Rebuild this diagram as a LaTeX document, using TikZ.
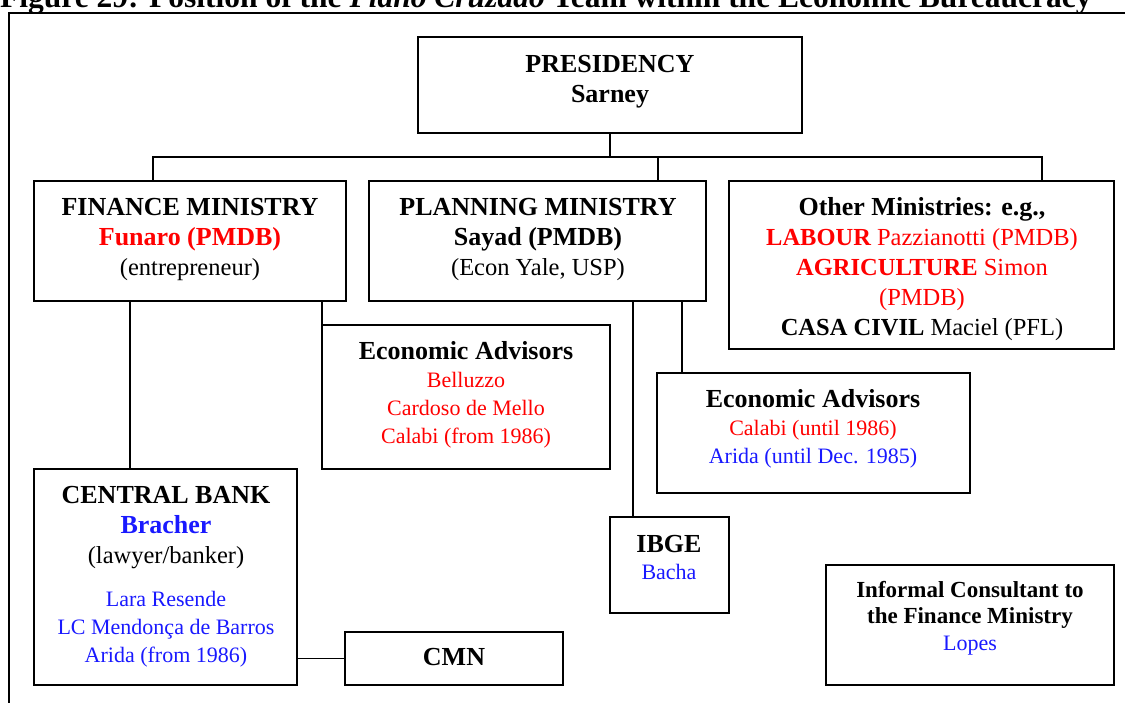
\documentclass[tikz,border=0pt]{standalone}
\usepackage{fontspec}
\setmainfont{Liberation Serif}
\usepackage{xcolor}
\definecolor{namered}{RGB}{255,0,0}
\definecolor{nameblue}{RGB}{25,25,255}

% type sizes used in the chart
\newcommand\HeadTxt{\fontsize{26}{30}\selectfont\bfseries}
\newcommand\SmallHeadTxt{\fontsize{23}{27}\selectfont\bfseries}
\newcommand\PlainTxt{\fontsize{24.5}{30}\selectfont}
\newcommand\NameTxt{\fontsize{22}{28}\selectfont}
\newcommand\Lines[1]{\begin{tabular}[t]{@{}c@{}}#1\end{tabular}}

\begin{document}
\begin{tikzpicture}[x=1pt,y=-1pt,
  box/.style={draw, line width=1.8pt, inner sep=0pt, outer sep=0pt},
  link/.style={line width=1.8pt},
  txt/.style={inner sep=0pt, outer sep=0pt, anchor=base}]
\useasboundingbox (0,0) rectangle (1125,702);
\clip (0,0) rectangle (1125,702);

% caption above the frame
\node[inner sep=0pt, anchor=base west, font=\fontsize{31.5}{36}\selectfont\bfseries] (title) at (0,7)
  {Figure 29: Position of the \textit{Plano Cruzado} Team within the Economic Bureaucracy};

% frame
\draw[line width=1.8pt] (9,720) -- (9,13) -- (1140,13);

% boxes
\node[box, minimum width=384pt, minimum height=96pt]  (pres) at (610,85) {};
\node[box, minimum width=312pt, minimum height=120pt] (fin)  at (190,241) {};
\node[box, minimum width=337pt, minimum height=120pt] (plan) at (537.5,241) {};
\node[box, minimum width=385pt, minimum height=168pt] (oth)  at (921.5,265) {};
\node[box, minimum width=288pt, minimum height=144pt] (adva) at (466,397) {};
\node[box, minimum width=313pt, minimum height=120pt] (advb) at (813.5,433) {};
\node[box, minimum width=263pt, minimum height=216pt] (cb)   at (165.5,577) {};
\node[box, minimum width=119pt, minimum height=96pt]  (ibge) at (669.5,565) {};
\node[box, minimum width=218pt, minimum height=53pt]  (cmn)  at (454,658.5) {};
\node[box, minimum width=288pt, minimum height=120pt] (inf)  at (970,625) {};

% texts
\node[txt, font=\PlainTxt] (presT) at (610,72)
  {\Lines{\HeadTxt PRESIDENCY\\ \HeadTxt Sarney}};
\node[txt, font=\PlainTxt] (finT) at (190,215)
  {\Lines{\HeadTxt FINANCE MINISTRY\\ \HeadTxt\color{namered}Funaro (PMDB)\\ \PlainTxt (entrepreneur)}};
\node[txt, font=\PlainTxt] (planT) at (538,215)
  {\Lines{\HeadTxt PLANNING MINISTRY\\ \HeadTxt Sayad (PMDB)\\ \PlainTxt (Econ Yale, USP)}};
\node[txt, font=\PlainTxt] (othT) at (922,215)
  {\Lines{\HeadTxt Other Ministries: e.g.,\\
   \PlainTxt\color{namered}{\bfseries LABOUR} Pazzianotti (PMDB)\\
   \PlainTxt\color{namered}{\bfseries AGRICULTURE} Simon\\
   \PlainTxt\color{namered}(PMDB)\\
   \PlainTxt{\bfseries CASA CIVIL} Maciel (PFL)}};
\node[txt, font=\NameTxt] (advaT) at (466,359)
  {\Lines{\HeadTxt Economic Advisors\\
   \NameTxt\color{namered}Belluzzo\\
   \NameTxt\color{namered}Cardoso de Mello\\
   \NameTxt\color{namered}Calabi (from 1986)}};
\node[txt, font=\NameTxt] (advbT) at (813,407)
  {\Lines{\HeadTxt Economic Advisors\\
   \NameTxt\color{namered}Calabi (until 1986)\\
   \NameTxt\color{nameblue}Arida (until Dec. 1985)}};
\node[txt, font=\PlainTxt] (cbT) at (166,503)
  {\Lines{\HeadTxt CENTRAL BANK\\
   \HeadTxt\color{nameblue}Bracher\\
   \PlainTxt (lawyer/banker)}};
\node[txt, font=\NameTxt] (cbN) at (166,606)
  {\Lines{\NameTxt\color{nameblue}Lara Resende\\
   \NameTxt\color{nameblue}LC Mendonça de Barros\\
   \NameTxt\color{nameblue}Arida (from 1986)}};
\node[txt, font=\fontsize{22}{27}\selectfont] (ibgeT) at (669,552)
  {\Lines{\HeadTxt IBGE\\ \NameTxt\color{nameblue}Bacha}};
\node[txt, font=\HeadTxt] (cmnT) at (454,665) {CMN};
\node[txt, font=\fontsize{22}{26.5}\selectfont] (infT) at (970,597)
  {\Lines{\SmallHeadTxt Informal Consultant to\\
   \SmallHeadTxt the Finance Ministry\\
   \NameTxt\color{nameblue}Lopes}};

% connectors
\coordinate (busL) at (153,157);
\coordinate (busR) at (1042,157);
\coordinate (busP) at (658,157);
\coordinate (xcb)  at (130,0);
\coordinate (xib)  at (633,0);
\coordinate (xab)  at (682,0);

\draw[link] (pres.south) -- (pres.south |- busL);
\draw[link] (fin.north -| busL) -- (busL) -- (busR) -- (oth.north -| busR);
\draw[link] (busP) -- (plan.north -| busP);
\draw[link] (fin.south -| xcb) -- (cb.north -| xcb);
\draw[link] (adva.north west |- fin.south) -- (adva.north west);
\draw[link] (plan.south -| xab) -- (advb.north -| xab);
\draw[link] (plan.south -| xib) -- (ibge.north -| xib);
\draw[link] (cb.east |- cmn.west) -- (cmn.west);
\end{tikzpicture}
\end{document}
